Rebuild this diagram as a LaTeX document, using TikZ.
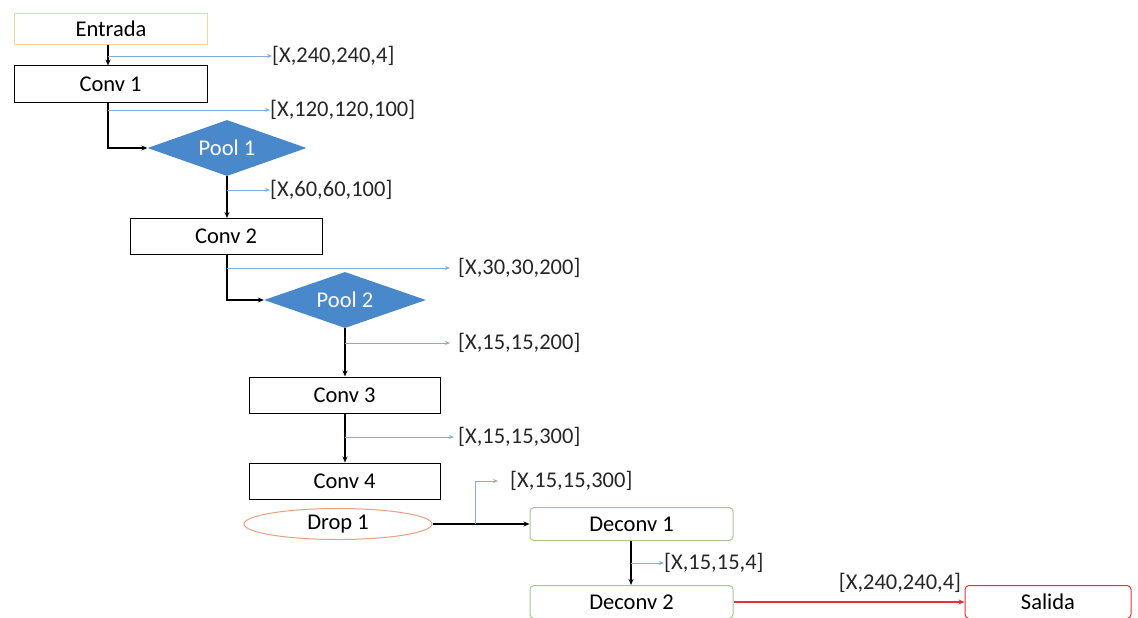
\documentclass[tikz,border=0pt]{standalone}
\usepackage{fontspec}
\setmainfont{Carlito}
\usetikzlibrary{shapes.geometric,arrows.meta}
\definecolor{poolblue}{HTML}{4A88CC}
\definecolor{branchblue}{HTML}{88ACD8}
\definecolor{inframe}{HTML}{F3D590}
\definecolor{dropframe}{HTML}{E8A080}
\definecolor{deframe}{HTML}{A8C890}
\definecolor{outframe}{HTML}{E8303A}
\begin{document}
\begin{tikzpicture}[x=1pt,y=-1pt,
  every node/.style={font=\fontsize{22.5}{26}\selectfont, inner sep=0pt},
  layer/.style={draw=black, line width=1pt, minimum width=#1, minimum height=36},
  layer/.default=193,
  poolnode/.style={diamond, fill=poolblue, text=white, minimum width=159, minimum height=56, aspect=2.84},
  roundbox/.style={draw=deframe, line width=1pt, rounded corners=4, minimum width=203, minimum height=33},
  flow/.style={line width=1.4pt, -{Stealth[length=6pt,width=5pt]}},
  branch/.style={branchblue, line width=0.9pt, -{Stealth[length=5pt,width=4pt]}},
  dimlabel/.style={anchor=west, text=black!85}
]
\useasboundingbox (0,0) rectangle (1138,618);

% layers
\node[layer, draw=inframe] (in) at (111,29) [minimum height=31] {Entrada};
\node[layer] (c1) at (110.5,84) {Conv 1};
\node[poolnode] (p1) at (227,148) {Pool 1};
\node[layer=192] (c2) at (226,236.5) {Conv 2};
\node[poolnode, minimum width=162] (p2) at (345,300) {Pool 2};
\node[layer=191] (c3) at (344.5,395) {Conv 3};
\node[layer=191] (c4) at (344.5,481) {Conv 4};
\node[ellipse, draw=dropframe, line width=1pt, minimum width=188, minimum height=31] (d1) at (338,524) {Drop 1};
\node[roundbox] (dc1) at (631.5,524) {Deconv 1};
\node[roundbox] (dc2) at (631.5,602) {Deconv 2};
\node[draw=outframe, line width=1pt, rounded corners=4, minimum width=166, minimum height=33] (out) at (1048,602) {Salida};

% tensor shape labels
\node[dimlabel] (s1) at (272,56) {[X,240,240,4]};
\node[dimlabel] (s2) at (270,110) {[X,120,120,100]};
\node[dimlabel] (s3) at (270,190) {[X,60,60,100]};
\node[dimlabel] (s4) at (458,268) {[X,30,30,200]};
\node[dimlabel] (s5) at (458,343) {[X,15,15,200]};
\node[dimlabel] (s6) at (458,437) {[X,15,15,300]};
\node[dimlabel] (s7) at (510,481) {[X,15,15,300]};
\node[dimlabel] (s8) at (664,563) {[X,15,15,4]};
\node[dimlabel, anchor=south] (s9) at (900,593) {[X,240,240,4]};

% main flow
\draw[flow] (in.south -| 108,0) -- (c1.north -| 108,0);
\draw[flow] (c1.south -| 108,0) |- (p1.west);
\draw[flow] (p1.south) -- (c2.north -| p1.south);
\draw[flow] (c2.south -| 227,0) |- (p2.west);
\draw[flow] (p2.south) -- (c3.north -| p2.south);
\draw[flow] (c3.south -| p2.south) -- (c4.north -| p2.south);
\draw[flow] (d1.east) -- (dc1.west);
\draw[flow] (dc1.south -| 631,0) -- (dc2.north -| 631,0);
\draw[line width=1.4pt, outframe, -{Stealth[length=6pt,width=5pt]}] (dc2.east) -- (out.west);

% shape taps
\draw[branch] (108,56) -- (s1.west);
\draw[branch] (108,110) -- (s2.west);
\draw[branch] (227,190) -- (s3.west);
\draw[branch] (227,268) -- ([xshift=-8]s4.west);
\draw[branch] (345,343) -- ([xshift=-8]s5.west);
\draw[branch] (345,437) -- ([xshift=-4]s6.west);
\draw[branch] (475,524) |- ([xshift=-12]s7.west);
\draw[branch] (631,563) -- (s8.west);
\end{tikzpicture}
\end{document}
